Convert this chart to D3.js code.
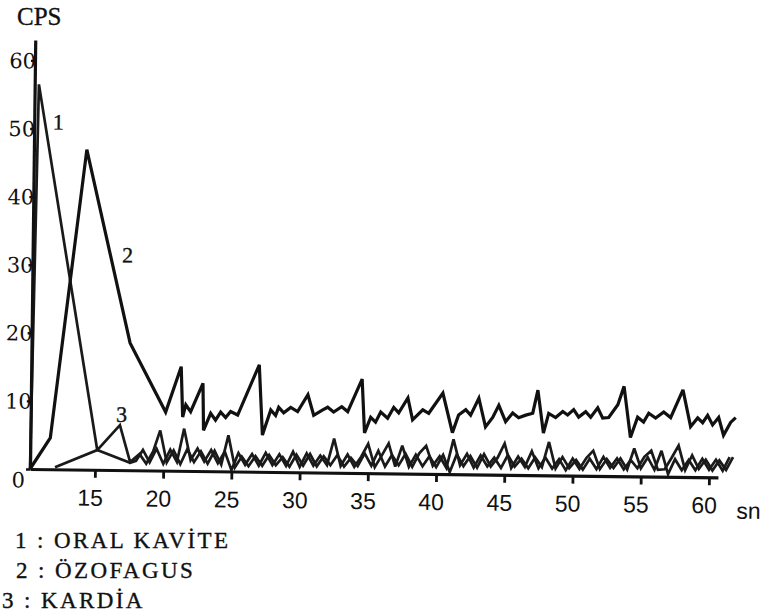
<!DOCTYPE html>
<html lang="tr">
<head>
    <meta charset="UTF-8">
    <title>CPS / sn</title>
    <script src="https://cdn.jsdelivr.net/npm/d3@7"></script>
    <style>
        body {
            margin: 0;
            background: #fff;
        }
        svg {
            display: block;
        }
        .x-axis text {
            font-family: "Liberation Sans", Arial, sans-serif;
            font-size: 23px;
            fill: #111;
        }
        .y-axis text {
            font-family: "DejaVu Serif", serif;
            font-size: 21px;
            fill: #111;
        }
        .serif {
            font-family: "Liberation Serif", "Times New Roman", serif;
            fill: #111;
            stroke: #111;
            stroke-width: 0.35px;
        }
    </style>
</head>
<body>
    <svg id="chart" width="768" height="612"></svg>

    <script>
        // seconds (sn) and counts per second (CPS)
        const xTicks = [15, 20, 25, 30, 35, 40, 45, 50, 55, 60];
        const yTicks = [0, 10, 20, 30, 40, 50, 60];

        // 1 : ORAL KAVİTE
        const oralKavite = [
            [10.24, 0], [10.55, 56.5], [15.15, 2.9], [17.57, 1.1],
            [18.0, 1.4], [18.5, 3.0], [19.0, 1.2], [19.5, 3.2], [20.0, 1.0], [20.5, 3.1], [21.0, 1.3], [21.5, 6.2],
            [22.0, 1.6], [22.5, 3.3], [23.0, 1.4], [23.5, 3.1], [24.0, 1.2], [24.5, 2.9], [25.0, 0.2], [25.5, 2.7],
            [26.0, 1.0], [26.5, 2.6], [27.0, 0.9], [27.5, 2.8], [28.0, 1.0], [28.5, 2.6], [29.0, 0.9], [29.5, 3.0],
            [30.0, 0.8], [30.5, 2.8], [31.0, 1.0], [31.5, 2.5], [32.0, 1.1], [32.5, 5.0], [33.0, 1.0], [33.5, 2.7],
            [34.0, 0.9], [34.5, 2.4], [35.0, 4.3], [35.5, 0.9], [36.0, 2.6], [36.5, 4.4], [37.0, 1.0], [37.5, 4.1],
            [38.0, 1.0], [38.5, 2.8], [39.0, 1.1], [39.5, 2.6], [40.0, 1.0], [40.5, 2.8], [41.0, 0.3], [41.5, 2.9],
            [42.0, 1.2], [42.5, 2.7], [43.0, 1.0], [43.5, 3.0], [44.0, 1.2], [44.5, 2.5], [45.0, 4.6], [45.5, 1.0],
            [46.0, 2.7], [46.5, 1.2], [47.0, 3.5], [47.5, 1.0], [48.0, 2.6], [48.5, 1.0], [49.0, 2.4], [49.5, 0.8],
            [50.0, 2.5], [50.5, 1.0], [51.0, 2.6], [51.5, 3.7], [52.0, 1.0], [52.5, 2.5], [53.0, 1.2], [53.5, 2.6],
            [54.0, 1.0], [54.5, 4.1], [55.0, 1.2], [55.5, 2.8], [56.0, 1.0], [56.5, 3.8], [57.0, 0.4], [57.5, 2.6],
            [58.0, 1.0], [58.5, 2.5], [59.0, 1.0], [59.5, 2.7], [60.0, 1.1], [60.5, 2.6], [61.0, 1.0], [61.5, 3.0]
        ];

        // 2 : ÖZOFAGUS
        const ozofagus = [
            [10.24, 0], [11.7, 4.6], [14.12, 47.0], [17.46, 18.7], [20.13, 8.6], [21.23, 15.3], [21.38, 7.9],
            [21.60, 9.7], [21.96, 8.7], [22.84, 12.9], [22.92, 6.0], [23.43, 8.5], [23.79, 7.5], [24.16, 8.7],
            [24.53, 7.9], [24.89, 8.8], [25.41, 8.3], [26.95, 15.7], [27.24, 5.4], [27.83, 9.1], [28.19, 8.3],
            [28.41, 9.5], [28.78, 8.7], [29.29, 9.5], [29.80, 8.9], [30.54, 11.4], [30.98, 8.4], [31.64, 9.2],
            [32.00, 9.6], [32.44, 8.9], [33.03, 9.7], [33.47, 9.0], [34.50, 13.8], [34.72, 5.9], [35.16, 8.2],
            [35.52, 7.5], [35.89, 9.0], [36.40, 8.1], [36.84, 9.7], [37.21, 8.9], [37.87, 11.1], [38.23, 7.9],
            [38.97, 9.4], [39.41, 8.9], [40.43, 11.9], [41.16, 6.1], [41.60, 8.7], [42.12, 9.5], [42.48, 8.7],
            [43.07, 11.2], [43.58, 7.0], [44.10, 8.4], [44.54, 10.2], [45.05, 7.8], [45.56, 9.1], [46.00, 8.4],
            [46.52, 8.8], [47.03, 9.1], [47.39, 12.5], [47.83, 6.2], [48.20, 9.1], [48.71, 8.5], [49.23, 9.4],
            [49.59, 8.9], [50.03, 9.7], [50.40, 8.6], [50.91, 9.4], [51.28, 8.6], [51.79, 10.0], [52.16, 8.5],
            [52.60, 8.6], [53.26, 10.5], [53.70, 13.2], [54.21, 5.7], [54.72, 8.7], [55.16, 8.0], [55.53, 9.3],
            [56.04, 8.6], [56.63, 9.5], [57.14, 8.7], [58.02, 12.8], [58.61, 7.4], [59.12, 8.7], [59.49, 8.0],
            [59.85, 9.1], [60.22, 7.7], [60.66, 8.8], [61.03, 6.2], [61.54, 8.1], [61.91, 8.8]
        ];

        // 3 : KARDİA
        const kardia = [
            [12.07, 0.3], [15.15, 2.9], [16.79, 6.6], [17.57, 1.2],
            [18.25, 2.4], [18.75, 1.0], [19.25, 2.8], [19.75, 5.9], [20.25, 1.2], [20.75, 3.0], [21.25, 1.0], [21.75, 3.2],
            [22.25, 1.3], [22.75, 2.9], [23.25, 1.1], [23.75, 3.0], [24.25, 1.0], [24.75, 5.3], [25.25, 0.6], [25.75, 2.2],
            [26.25, 0.8], [26.75, 2.3], [27.25, 0.9], [27.75, 2.5], [28.25, 1.0], [28.75, 2.2], [29.25, 0.8], [29.75, 2.6],
            [30.25, 1.0], [30.75, 2.7], [31.25, 0.9], [31.75, 2.4], [32.25, 1.1], [32.75, 2.6], [33.25, 0.9], [33.75, 2.2],
            [34.25, 1.0], [34.75, 2.9], [35.25, 1.1], [35.75, 3.3], [36.25, 1.0], [36.75, 2.7], [37.25, 1.2], [37.75, 2.9],
            [38.25, 1.0], [38.75, 3.0], [39.25, 4.1], [39.75, 1.2], [40.25, 2.6], [40.75, 0.9], [41.25, 5.1], [41.75, 1.3],
            [42.25, 3.0], [42.75, 1.0], [43.25, 2.8], [43.75, 1.2], [44.25, 2.5], [44.75, 1.0], [45.25, 2.9], [45.75, 1.2],
            [46.25, 2.4], [46.75, 1.0], [47.25, 2.6], [47.75, 1.2], [48.25, 4.9], [48.75, 1.0], [49.25, 2.7], [49.75, 1.1],
            [50.25, 2.3], [50.75, 0.9], [51.25, 2.5], [51.75, 1.0], [52.25, 2.8], [52.75, 1.2], [53.25, 2.6], [53.75, 1.0],
            [54.25, 2.4], [54.75, 1.2], [55.25, 2.9], [55.75, 3.8], [56.25, 1.0], [56.75, 1.1], [57.25, 2.8], [57.75, 4.6],
            [58.25, 1.0], [58.75, 3.2], [59.25, 1.2], [59.75, 2.6], [60.25, 1.0], [60.75, 2.5], [61.25, 1.1], [61.75, 3.0]
        ];

        // curve numbers written next to the lines, anchored in data units
        const curveNumbers = ["1", "2", "3"];
        const curveNumberAt = [[12.0, 51.0], [17.2, 31.6], [16.9, 8.2]];

        const legendItems = ["1 : ORAL KAVİTE", "2 : ÖZOFAGUS", "3 : KARDİA"];

        const svg = d3.select("#chart");
        const ink = "#111";

        const xStart = 10.24, xEnd = 60.66, yTop = 63;
        const x = d3.scaleLinear().domain([xStart, xEnd]).range([30, 718]);
        const y = d3.scaleLinear().domain([0, yTop]).range([469, 40]);
        const x0 = x(xStart), y0 = y(0);

        // the scanned page sits slightly skewed
        const plot = svg.append("g")
            .attr("transform", `rotate(0.7, ${x0}, ${y0})`);

        const line = d3.line()
            .x(d => x(d[0]))
            .y(d => y(d[1]));

        [oralKavite, kardia, ozofagus].forEach((series, i) => {
            plot.append("path")
                .datum(series)
                .attr("d", line)
                .attr("fill", "none")
                .attr("stroke", i === 2 ? ink : "#1a1a1a")
                .attr("stroke-width", i === 2 ? 3.2 : 2.7)
                .attr("stroke-linejoin", "miter")
                .attr("stroke-miterlimit", 3);
        });

        // x axis
        const xAxis = plot.append("g")
            .attr("class", "x-axis")
            .attr("transform", `translate(0,${y0})`)
            .call(d3.axisBottom(x).tickValues(xTicks).tickSize(8).tickSizeOuter(0));
        xAxis.select(".domain").attr("stroke", ink).attr("stroke-width", 3.2);
        xAxis.selectAll(".tick line").attr("stroke", ink).attr("stroke-width", 2.8);
        xAxis.selectAll(".tick text").attr("y", 36).attr("dy", 0).attr("dx", -5);

        plot.append("text")
            .attr("x", x(xEnd) + 31)
            .attr("y", y0 + 41)
            .attr("text-anchor", "middle")
            .style("font-family", "Liberation Sans, Arial, sans-serif")
            .style("font-size", "23px")
            .style("fill", ink)
            .text("sn");

        // y axis
        const yAxis = plot.append("g")
            .attr("class", "y-axis")
            .attr("transform", `translate(${x0},0)`)
            .call(d3.axisLeft(y).tickValues(yTicks).tickSize(4).tickSizeOuter(0));
        yAxis.select(".domain").attr("stroke", ink).attr("stroke-width", 3.2);
        yAxis.selectAll(".tick line").attr("stroke", ink).attr("stroke-width", 2.4);
        yAxis.selectAll(".tick text")
            .attr("x", d => d === 0 ? -5 : 1)
            .attr("dy", d => d === 0 ? "0.85em" : "0.35em");

        plot.selectAll(".curve-no")
            .data(curveNumbers)
            .enter().append("text")
            .attr("class", "serif curve-no")
            .attr("x", (d, i) => x(curveNumberAt[i][0]))
            .attr("y", (d, i) => y(curveNumberAt[i][1]))
            .attr("text-anchor", "middle")
            .attr("dominant-baseline", "central")
            .style("font-size", "22px")
            .text(d => d);

        svg.append("text")
            .attr("class", "serif")
            .attr("x", 17)
            .attr("y", 25)
            .style("font-size", "25px")
            .text("CPS");

        const legendX = [15, 16, 2];
        svg.selectAll(".legend")
            .data(legendItems)
            .enter().append("text")
            .attr("class", "serif legend")
            .attr("x", (d, i) => legendX[i])
            .attr("y", (d, i) => 548 + i * 30)
            .style("font-size", "23px")
            .style("letter-spacing", "2.4px")
            .text(d => d);
    </script>
</body>
</html>
